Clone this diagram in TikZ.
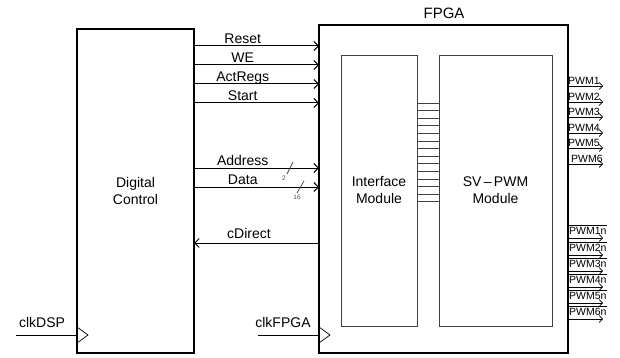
\documentclass[tikz,border=0pt]{standalone}
\usepackage{fontspec}
\setmainfont{Liberation Sans}
\usetikzlibrary{arrows.meta}
\begin{document}
\begin{tikzpicture}[x=1pt,y=-1pt,
  blk/.style={draw, line width=1.1pt, inner sep=0pt, outer sep=0pt, align=center, font=\fontsize{14}{17}\selectfont},
  inbox/.style={draw=black!75, line width=0.9pt, inner sep=0pt, outer sep=0pt, align=center, font=\fontsize{14}{17}\selectfont},
  sig/.style={line width=1pt, -{Straight Barb[length=4.5pt,width=9pt,line width=1pt]}},
  sigs/.style={line width=0.7pt, -{Straight Barb[length=3.5pt,width=7pt,line width=0.7pt]}},
  lbl/.style={font=\fontsize{14}{16}\selectfont, anchor=base, inner sep=0pt},
  plbl/.style={font=\fontsize{10.5}{11}\selectfont, anchor=base west, inner sep=0pt},
  tiny/.style={font=\fontsize{6.5}{7}\selectfont, inner sep=0pt, text=black!70},
  slash/.style={line width=0.7pt, black!75},
  bus/.style={line width=0.9pt, black!75},
  clk/.style={line width=1pt}]
\useasboundingbox (0,0) rectangle (620,358);

% blocks
\node[blk, minimum width=117pt, minimum height=324pt] (dc) at (135.5,191) {Digital\\Control};
\node[blk, minimum width=249pt, minimum height=328pt] (fpga) at (443.5,189) {};
\node[font=\fontsize{15}{17}\selectfont] (fpgalbl) at (444,13) {FPGA};
\node[inbox, minimum width=76pt, minimum height=271pt] (im) at (379,190.5) {Interface\\Module};
\node[inbox, minimum width=113pt, minimum height=271pt] (sv) at (495.5,190.5) {SV\,–\,PWM\\Module};

% control signals
\foreach \y/\t in {46/Reset,65/WE,84/ActRegs,103/Start,168/Address,187/Data}
  \draw[sig] (dc.east |- 0,\y) -- (fpga.west |- 0,\y)
     node[lbl, pos=0.39, yshift=2.5pt] {\t};
\draw[sig] (fpga.west |- 0,243) -- (dc.east |- 0,243)
     node[lbl, pos=0.56, yshift=5pt] {cDirect};

% bus width marks
\draw[slash] (287,174) -- (293,162);
\node[tiny] (w2) at (284,178) {2};
\draw[slash] (297,193) -- (304,181);
\node[tiny] (w16) at (297,197) {16};

% internal bus
\foreach \i [evaluate=\i as \yy using 103+\i*7.6] in {0,...,13}
  \draw[bus] (im.east |- 0,\yy) -- (sv.west |- 0,\yy);

% PWM outputs
\foreach \k/\y/\dx in {1/86/0,2/102/0,3/117/0,4/133/0,5/148/0,6/164/3}{
  \coordinate (o\k) at (603,\y);
  \draw[sigs] (fpga.east |- o\k) -- (o\k);
  \node[plbl] (p\k) at ([xshift=\dx pt, yshift=1.5pt]fpga.east |- o\k) {PWM\k};
}
\foreach \k/\y in {1/238,2/255,3/271,4/287,5/303,6/319}{
  \coordinate (n\k) at (603,\y);
  \draw[sigs] (fpga.east |- n\k) -- (n\k);
  \node[plbl] (q\k) at ([xshift=1pt, yshift=4pt]fpga.east |- n\k) {PWM\k n};
  \draw[line width=0.6pt] ([yshift=1pt]q\k.north west) -- ([yshift=1pt]q\k.north east);
}

% clocks
\coordinate (cd) at (16,335);
\draw[clk] (cd) -- (dc.west |- cd);
\draw[line width=0.7pt] ([yshift=8pt]dc.west |- cd) -- ([xshift=11pt]dc.west |- cd) -- ([yshift=-8pt]dc.west |- cd);
\node[font=\fontsize{14}{16}\selectfont] (cdl) at (42,322) {clkDSP};
\coordinate (cf) at (258,335);
\draw[clk] (cf) -- (fpga.west |- cf);
\draw[line width=0.7pt] ([yshift=8pt]fpga.west |- cf) -- ([xshift=11pt]fpga.west |- cf) -- ([yshift=-8pt]fpga.west |- cf);
\node[font=\fontsize{14}{16}\selectfont] (cfl) at (283,322) {clkFPGA};
\end{tikzpicture}
\end{document}
